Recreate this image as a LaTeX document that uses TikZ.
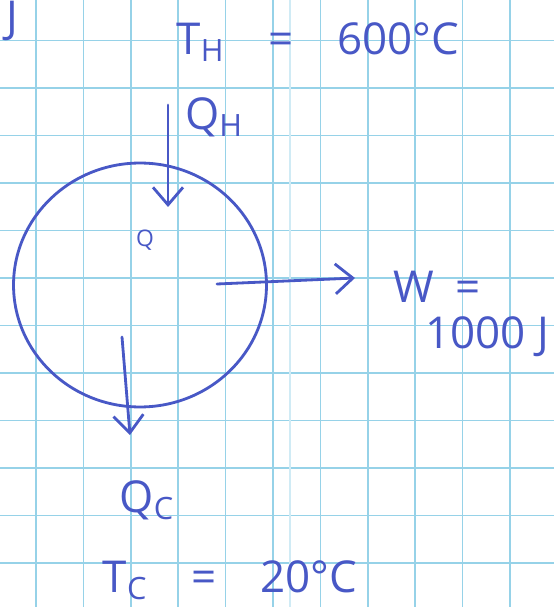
\documentclass[tikz,border=0pt]{standalone}
\usepackage{fontspec}
\setmainfont{Open Sans}
\usetikzlibrary{arrows.meta, shapes.geometric}
\definecolor{cInk}{RGB}{72,88,198}
\definecolor{cGrid}{RGB}{150,210,232}
\tikzset{
  gridline/.style={cGrid, line width=0.9pt},
  inkline/.style={cInk, line width=1.6pt, line cap=round, line join=round},
  inkarrow/.style={inkline, -{Straight Barb[length=3.5mm, width=6mm]}},
  handtext/.style={text=cInk, font=\fontsize{25}{30}\selectfont, inner sep=0pt},
  enginenode/.style={ellipse, draw=cInk, line width=1.6pt,
                     minimum width=5.06cm, minimum height=4.88cm}
}
\begin{document}
\begin{tikzpicture}[x=0.02cm, y=-0.02cm]
  \useasboundingbox (0,0) rectangle (554,607);
  \clip (0,0) rectangle (554,607);
  \fill[white] (0,0) rectangle (554,607);

  % graph paper
  \foreach \gx in {0,...,11}
    \draw[gridline] ({36+47.4*\gx},0) -- ({36+47.4*\gx},607);
  \foreach \gy in {0,...,12}
    \draw[gridline] (0,{40.5+47.5*\gy}) -- (554,{40.5+47.5*\gy});
  \draw[gridline, cGrid!45] (290,0) -- (290,607);

  % engine
  \node[enginenode] (engine) at (140,285) {};
  \node[handtext, font=\fontsize{13}{15}\selectfont] (qmark) at (145,240) {Q};

  % heat and work flows
  \coordinate (qhstart) at (168,105);
  \coordinate (qhend) at (168,207);
  \coordinate (wstart) at (217,284);
  \coordinate (wend) at (355,278);
  \coordinate (qcstart) at (122,337);
  \coordinate (qcend) at (130,435);
  \draw[inkarrow] (qhstart) -- (qhend);
  \draw[inkarrow] (wstart) -- (wend);
  \draw[inkarrow] (qcstart) -- (qcend);

  % labels
  \node[handtext] (jleft) at (12,21) {J};
  \node[handtext] (thot) at (318,42) {T\textsubscript{H}\quad=\quad 600°C};
  \node[handtext] (qhot) at (214,117) {Q\textsubscript{H}};
  \node[handtext] (work) at (437,287) {W\enspace=};
  \node[handtext] (workval) at (487,337) {1000 J};
  \node[handtext] (qcold) at (147,500) {Q\textsubscript{C}};
  \node[handtext] (tcold) at (230,580) {T\textsubscript{C}\quad=\quad 20°C};
\end{tikzpicture}
\end{document}
